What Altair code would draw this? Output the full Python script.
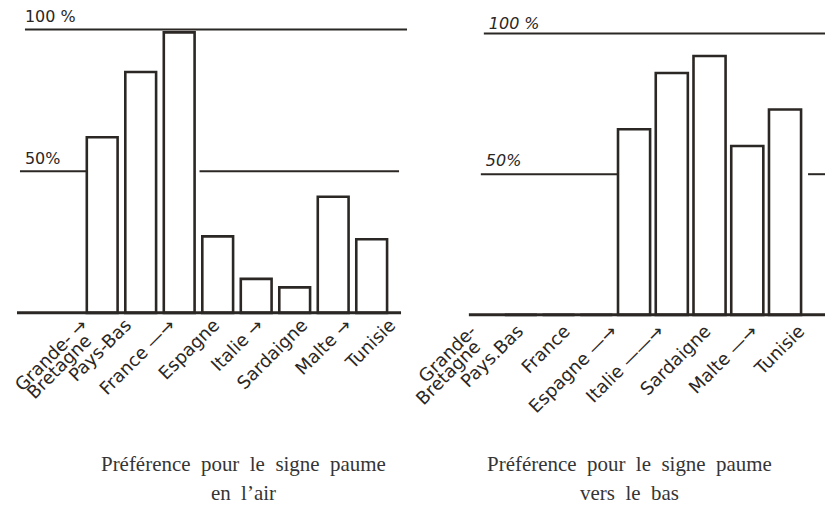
import altair as alt
import pandas as pd

# ---- data -------------------------------------------------------------
categories = ["Grande-Bretagne", "Pays-Bas", "France", "Espagne",
              "Italie", "Sardaigne", "Malte", "Tunisie"]

# % preference, palm up ("paume en l'air")
pct_air = [62, 85, 99, 27, 12, 9, 41, 26]
# % preference, palm down ("paume vers le bas")
pct_bas = [0, 0, 0, 66, 86, 92, 60, 73]

# hand-written labels: first line and (for Grande-Bretagne) second line
labels_air = ["Grande- \u2192", "Pays-Bas", "France \u2014\u2192", "Espagne",
              "Italie \u2192", "Sardaigne", "Malte \u2192", "Tunisie"]
labels_air_2 = ["Bretagne", "", "", "", "", "", "", ""]
labels_bas = ["Grande-", "Pays.Bas", "France", "Espagne \u2014\u2192",
              "Italie \u2014\u2014\u2192", "Sardaigne", "Malte \u2014\u2192", "Tunisie"]
labels_bas_2 = ["Bretagne", "", "", "", "", "", "", ""]

ref_levels = [100, 50]
ref_texts = ["100 %", "50%"]

title_air = "Pr\u00e9f\u00e9rence\u00a0 pour\u00a0 le\u00a0 signe\u00a0 paume\nen\u00a0 l\u2019air"
title_bas = "Pr\u00e9f\u00e9rence\u00a0 pour\u00a0 le\u00a0 signe\u00a0 paume\nvers\u00a0 le\u00a0 bas"

# ---- style ------------------------------------------------------------
INK = "#2b2725"
HAND = "DejaVu Sans"
PRINT = "Liberation Serif"
H = 306


def panel(values, labels, labels2, title, W, y_range, bar_range, pad_inner,
          label_range, label_y, base_x, top_x, half_segs, t100, t50, title_x,
          ref_style):
    yscale = alt.Scale(domain=[0, 100], range=y_range, nice=False, zero=True)
    df = pd.DataFrame({"cat": categories, "pct": values,
                       "label": labels, "label2": labels2})

    bars = alt.Chart(df).mark_bar(
        fill="white", stroke=INK, strokeWidth=2.6, strokeJoin="miter"
    ).encode(
        x=alt.X("cat:N", sort=categories, axis=None,
                scale=alt.Scale(type="band", domain=categories, range=bar_range,
                                paddingInner=pad_inner, paddingOuter=0)),
        y=alt.Y("pct:Q", scale=yscale, axis=None),
    )

    layers = []
    # 100 % line
    layers.append(alt.Chart(pd.DataFrame({"pct": [ref_levels[0]]})).mark_rule(
        color=INK, strokeWidth=2).encode(
        y=alt.Y("pct:Q", scale=yscale, axis=None),
        x=alt.value(top_x[0]), x2=alt.value(top_x[1])))
    # 50 % line (segments)
    for seg in half_segs:
        layers.append(alt.Chart(pd.DataFrame({"pct": [ref_levels[1]]})).mark_rule(
            color=INK, strokeWidth=2).encode(
            y=alt.Y("pct:Q", scale=yscale, axis=None),
            x=alt.value(seg[0]), x2=alt.value(seg[1])))
    layers.append(bars)
    # baseline
    layers.append(alt.Chart(pd.DataFrame({"pct": [0]})).mark_rule(
        color=INK, strokeWidth=3).encode(
        y=alt.Y("pct:Q", scale=yscale, axis=None),
        x=alt.value(base_x[0]), x2=alt.value(base_x[1])))
    # reference texts
    for lvl, txt, (tx, tdy) in zip(ref_levels, ref_texts, [t100, t50]):
        layers.append(alt.Chart(pd.DataFrame({"pct": [lvl]})).mark_text(
            font=HAND, fontSize=16, color=INK, align="left", baseline="alphabetic",
            fontStyle=ref_style, dy=tdy).encode(
            y=alt.Y("pct:Q", scale=yscale, axis=None),
            x=alt.value(tx), text=alt.value(txt)))
    # category labels (hand written, slanted)
    lab_x = alt.X("cat:N", sort=categories, axis=None,
                  scale=alt.Scale(type="point", domain=categories,
                                  range=label_range, padding=0))
    layers.append(alt.Chart(df).mark_text(
        font=HAND, fontSize=18, color=INK, angle=315, align="right",
        baseline="middle").encode(
        x=lab_x, y=alt.value(label_y), text="label:N"))
    layers.append(alt.Chart(df).mark_text(
        font=HAND, fontSize=18, color=INK, angle=315, align="right",
        baseline="middle", dx=-8, dy=14).encode(
        x=lab_x, y=alt.value(label_y), text="label2:N"))
    # printed caption
    layers.append(alt.Chart(pd.DataFrame({"t": [title]})).mark_text(
        font=PRINT, fontSize=21, color="#353535", align="center",
        baseline="alphabetic", lineBreak="\n", lineHeight=29).encode(
        x=alt.value(title_x), y=alt.value(463), text="t:N"))

    return alt.layer(*layers).resolve_scale(x="independent").properties(
        width=W, height=H)


left = panel(pct_air, labels_air, labels_air_2, title_air, 402, y_range=[304, 20],
             bar_range=[79, 380], pad_inner=0.2,
             label_range=[77, 386], label_y=314,
             base_x=(9, 394), top_x=(17, 400),
             half_segs=[(12, 79), (192, 392)],
             t100=(17, -8), t50=(17, -7), title_x=236, ref_style="normal")

right = panel(pct_bas, labels_bas, labels_bas_2, title_bas, 409, y_range=[306, 24],
              bar_range=[88, 385], pad_inner=0.15,
              label_range=[57, 386], label_y=320,
              base_x=(52, 409), top_x=(67, 409),
              half_segs=[(64, 201), (392, 409)],
              t100=(72, -5), t50=(69, -8), title_x=213, ref_style="italic")

chart = alt.hconcat(left, right, spacing=8, bounds="flush").resolve_scale(
    x="independent", y="independent").properties(
    padding=0, background="white").configure_view(stroke=None, strokeWidth=0)

chart.save("out.html", embed_options={"renderer": "svg", "actions": False})
